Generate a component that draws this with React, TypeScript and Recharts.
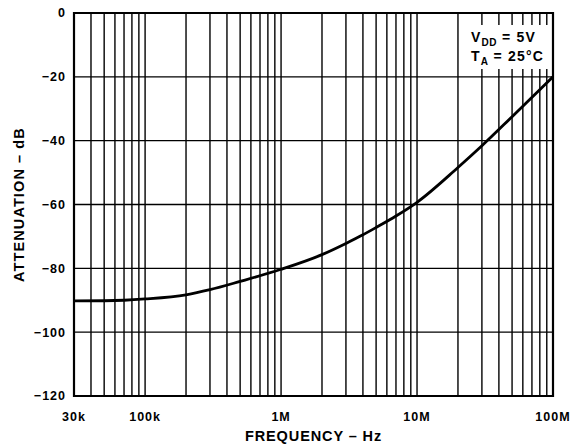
import { LineChart, Line, XAxis, YAxis, CartesianGrid, ReferenceArea, Label } from 'recharts';

// Attenuation vs frequency, VDD = 5V, TA = 25°C
const frequencies = [30000, 50000, 70000, 100000, 200000, 300000, 500000, 1000000, 2000000, 3000000, 4000000, 5000000, 7000000, 10000000, 20000000, 30000000, 50000000, 100000000];
const attenuation = [-90.2, -90.15, -90, -89.6, -88.3, -86.7, -84.1, -80.3, -75.7, -72.2, -69.5, -67.2, -63.6, -59.3, -48.4, -41.6, -32.5, -20];

// vertical grid lines (log decades) and the labelled ones
const xGridTicks = [
  30000, 40000, 50000, 60000, 70000, 80000, 90000,
  100000, 200000, 300000, 400000, 500000, 600000, 700000, 800000, 900000,
  1000000, 2000000, 3000000, 4000000, 5000000, 6000000, 7000000, 8000000, 9000000,
  10000000, 20000000, 30000000, 40000000, 50000000, 60000000, 70000000, 80000000, 90000000,
  100000000,
];
const xTickLabels: Record<number, string> = {
  30000: '30k',
  100000: '100k',
  1000000: '1M',
  10000000: '10M',
  100000000: '100M',
};
const yTicks = [0, -20, -40, -60, -80, -100, -120];

const font = '"Liberation Sans", Arial, Helvetica, sans-serif';

export default function App() {
  const data = frequencies.map((f, i) => ({ f, att: attenuation[i] }));
  const tickStyle = { fontFamily: font, fontSize: 12.5, fontWeight: 700, fill: '#000', letterSpacing: 1 };
  const subStyle = { fontSize: 10, position: 'relative' as const, top: 4, letterSpacing: 0.5 };

  return (
    <div style={{ position: 'absolute', left: 0, top: 0, width: 580, height: 447, background: '#fff' }}>
      <LineChart width={580} height={447} data={data} margin={{ top: 13, right: 27, bottom: 0, left: 0 }}>
        <CartesianGrid stroke="#000" strokeWidth={1.4} />
        <XAxis
          dataKey="f"
          type="number"
          scale="log"
          domain={[30000, 100000000]}
          allowDataOverflow
          ticks={xGridTicks}
          interval={0}
          tickFormatter={(v: number) => xTickLabels[v] ?? ''}
          tickLine={false}
          axisLine={false}
          tickMargin={10}
          height={51}
          tick={tickStyle}
        >
          <Label
            value="FREQUENCY – Hz"
            position="insideBottom"
            offset={6}
            style={{ fontFamily: font, fontSize: 14.5, fontWeight: 700, fill: '#000', letterSpacing: 0.9 }}
          />
        </XAxis>
        <YAxis
          type="number"
          domain={[-120, 0]}
          ticks={yTicks}
          interval={0}
          tickFormatter={(v: number) => (v < 0 ? '\u2212' + Math.abs(v) : String(v))}
          tickLine={false}
          axisLine={false}
          width={74}
          tick={tickStyle}
        >
          <Label
            value="ATTENUATION – dB"
            angle={-90}
            position="insideLeft"
            offset={19}
            style={{ fontFamily: font, fontSize: 14.5, fontWeight: 700, fill: '#000', textAnchor: 'middle', letterSpacing: 1.1 }}
          />
        </YAxis>
        <ReferenceArea x1={30000} x2={100000000} y1={-120} y2={0} fill="none" stroke="#000" strokeWidth={2.2} />
        <Line
          dataKey="att"
          type="monotone"
          stroke="#000"
          strokeWidth={2.8}
          dot={false}
          isAnimationActive={false}
        />
      </LineChart>
      <div
        style={{
          position: 'absolute',
          left: 466,
          top: 25,
          width: 85,
          height: 44,
          background: '#fff',
          fontFamily: font,
          fontSize: 14,
          fontWeight: 700,
          lineHeight: '16.6px',
          letterSpacing: 1.2,
          color: '#000',
          paddingLeft: 5,
          paddingTop: 4,
          boxSizing: 'border-box',
          whiteSpace: 'nowrap',
        }}
      >
        <div>
          V<span style={subStyle}>DD</span> = 5V
        </div>
        <div>
          T<span style={subStyle}>A</span> = 25°C
        </div>
      </div>
    </div>
  );
}
